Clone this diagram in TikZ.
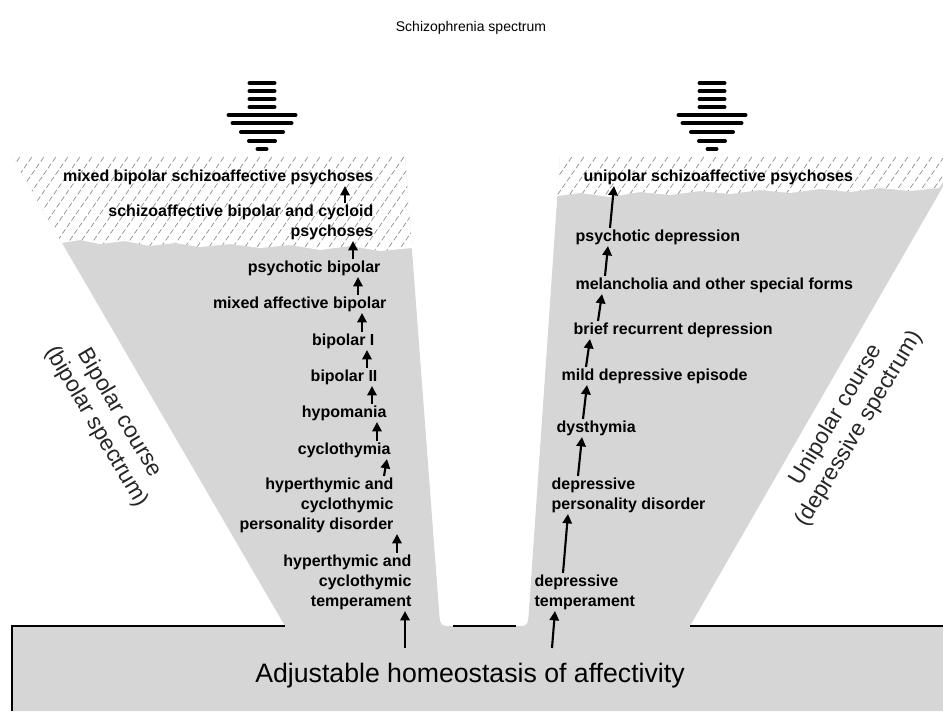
\documentclass[tikz,border=0pt]{standalone}
\usepackage{fontspec}
\setmainfont{Liberation Sans}
\usetikzlibrary{arrows.meta}

\definecolor{funnelgray}{gray}{0.84}
\definecolor{hatchgray}{gray}{0.55}

\begin{document}
\begin{tikzpicture}[x=0.75pt, y=-0.75pt,
  lcol/.style={font=\bfseries\fontsize{12}{15}\selectfont, inner sep=1pt, anchor=east, align=right},
  rcol/.style={font=\bfseries\fontsize{12}{15}\selectfont, inner sep=1pt, anchor=west, align=left},
  side/.style={font=\fontsize{17}{20}\selectfont, align=center, text=black!85},
  up/.style={-{Triangle[width=7pt,length=7pt]}, line width=1.6pt},
  stripe/.style={line width=3pt, line cap=round},
  hatch/.style={hatchgray, line width=0.5pt, dash pattern=on 4pt off 2pt},
  edge/.style={line width=1.2pt}]
\useasboundingbox (0,0) rectangle (943,711);
\clip (0,0) rectangle (943,711);

% funnels and base
\fill[funnelgray] (12,711) -- (12,626) -- (285,626) -- (12,157) -- (405,157) -- (439,610)
  .. controls (440,626) .. (453,626) -- (516,626) .. controls (528,626) .. (529,610)
  -- (560,157) -- (960,157) -- (690,626) -- (960,626) -- (960,711) -- cycle;
\draw[edge] (12,711) -- (12,626) -- (285,626);
\draw[edge] (453,626) -- (516,626);
\draw[edge] (690,626) -- (960,626);

% hatched tops
\fill[white] (12,157) -- (405,157) -- (412,248) -- (380,251) -- (350,246) -- (320,250) -- (290,245)
  -- (260,248) -- (230,244) -- (200,247) -- (175,243) -- (150,246) -- (125,241) -- (100,244) -- (80,240) -- (62,243) -- cycle;
\fill[white] (560,157) -- (960,157) -- (939,188) -- (910,191) -- (880,188) -- (850,192) -- (820,189) -- (790,193)
  -- (760,190) -- (730,194) -- (700,191) -- (670,195) -- (640,192) -- (610,197) -- (580,193) -- (557,196) -- cycle;
\begin{scope}
  \clip (12,157) -- (405,157) -- (412,248) -- (380,251) -- (350,246) -- (320,250) -- (290,245)
    -- (260,248) -- (230,244) -- (200,247) -- (175,243) -- (150,246) -- (125,241) -- (100,244) -- (80,240) -- (62,243) -- cycle
    (560,157) -- (960,157) -- (939,188) -- (910,191) -- (880,188) -- (850,192) -- (820,189) -- (790,193)
    -- (760,190) -- (730,194) -- (700,191) -- (670,195) -- (640,192) -- (610,197) -- (580,193) -- (557,196) -- cycle;
  \foreach \i in {-100,-88,...,980}
    \draw[hatch] (\i,260) -- ({\i+90},131);
\end{scope}

% striped arrows
\foreach \cx in {262,712}
  \foreach \y/\w in {83/12.5,91/12.5,99/12.5,107/12.5,115/33.5,123/29.5,132/21,141/13,149/4.5}
    \draw[stripe] ({\cx-\w},\y) -- ({\cx+\w},\y);

\node[font=\fontsize{10.5}{12}\selectfont] (title) at (471,28) {Schizophrenia spectrum};

% bipolar side
\node[lcol] (lmix) at (375,177) {mixed bipolar schizoaffective psychoses};
\node[lcol] (lsch) at (375,222) {schizoaffective bipolar and cycloid\\psychoses};
\node[lcol] (lpsy) at (382,268) {psychotic bipolar};
\node[lcol] (lmab) at (388,304) {mixed affective bipolar};
\node[lcol] (lbi) at (376,341) {bipolar I};
\node[lcol] (lbii) at (379,377) {bipolar II};
\node[lcol] (lhyp) at (388,413) {hypomania};
\node[lcol] (lcyc) at (392,450) {cyclothymia};
\node[lcol] (lhpd) at (395,505) {hyperthymic and\\cyclothymic\\personality disorder};
\node[lcol] (ltem) at (413,582) {hyperthymic and\\cyclothymic\\temperament};

% unipolar side
\node[rcol] (runi) at (582,177) {unipolar schizoaffective psychoses};
\node[rcol] (rpsy) at (574,237) {psychotic depression};
\node[rcol] (rmel) at (574,285) {melancholia and other special forms};
\node[rcol] (rbrd) at (572,330) {brief recurrent depression};
\node[rcol] (rmde) at (560,376) {mild depressive episode};
\node[rcol] (rdys) at (555,428) {dysthymia};
\node[rcol] (rdpd) at (550,495) {depressive\\personality disorder};
\node[rcol] (rtem) at (533,592) {depressive\\temperament};

\node[side, rotate=-59.5] (lcourse) at (108,420) {Bipolar course\\(bipolar spectrum)};
\node[side, rotate=59] (rcourse) at (848,422) {Unipolar course\\(depressive spectrum)};

\node[font=\fontsize{20}{24}\selectfont] (base) at (470,676) {Adjustable homeostasis of affectivity};
\coordinate (lroot) at (405,648);
\coordinate (rroot) at (552,648);

% arrows
\draw[up] (lroot) -- (405,0 |- ltem.south);
\draw[up] (397,0 |- ltem.north) -- (397,0 |- lhpd.south);
\draw[up] (384,0 |- lhpd.north) -- (387,0 |- lcyc.south);
\draw[up] (377,0 |- lcyc.north) -- (377,0 |- lhyp.south);
\draw[up] (372,0 |- lhyp.north) -- (372,0 |- lbii.south);
\draw[up] (367,0 |- lbii.north) -- (367,0 |- lbi.south);
\draw[up] (362,0 |- lbi.north) -- (362,0 |- lmab.south);
\draw[up] (358,0 |- lmab.north) -- (358,0 |- lpsy.south);
\draw[up] (353,0 |- lpsy.north) -- (353,0 |- lsch.south);
\draw[up] (345,0 |- lsch.north) -- (345,0 |- lmix.south);

\draw[up] (rroot) -- (555,0 |- rtem.south);
\draw[up] (563,0 |- rtem.north) -- (568,0 |- rdpd.south);
\draw[up] (578,0 |- rdpd.north) -- (582,0 |- rdys.south);
\draw[up] (583,0 |- rdys.north) -- (587,0 |- rmde.south);
\draw[up] (586,0 |- rmde.north) -- (590,0 |- rbrd.south);
\draw[up] (598,0 |- rbrd.north) -- (602,0 |- rmel.south);
\draw[up] (605,0 |- rmel.north) -- (608,0 |- rpsy.south);
\draw[up] (610,0 |- rpsy.north) -- (614,0 |- runi.south);
\end{tikzpicture}
\end{document}
